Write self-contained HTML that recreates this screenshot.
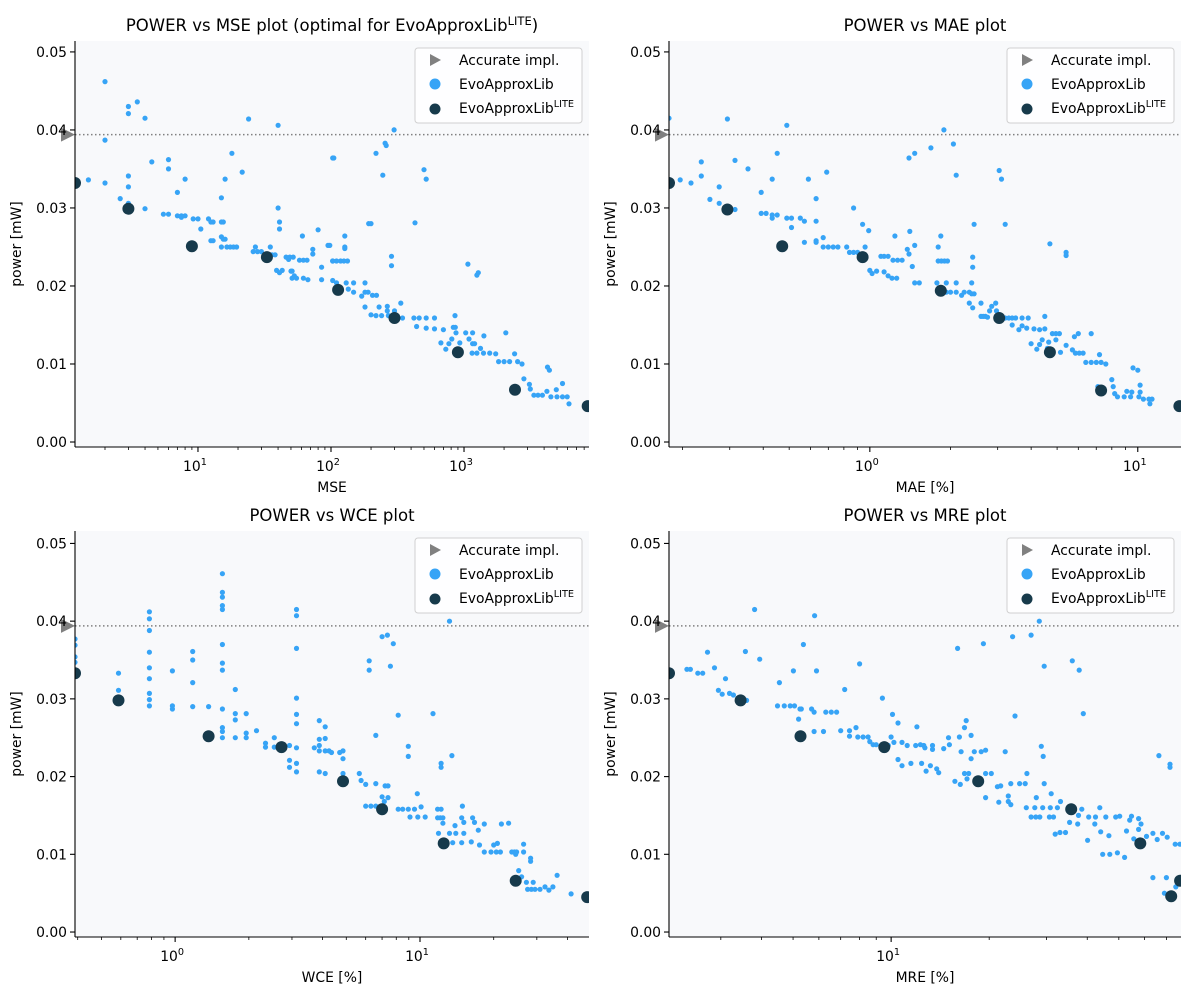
<!DOCTYPE html>
<html><head><meta charset="utf-8">
<style>
html,body{margin:0;padding:0;background:#fff;}
svg{display:block;font-family:"DejaVu Sans","Liberation Sans",sans-serif;}
</style></head>
<body>
<svg id="fig" width="1200" height="1000" viewBox="0 0 1200 1000" xmlns="http://www.w3.org/2000/svg"></svg>
<script>
// ---------- data ----------
const accuratePower = 0.0394;
// Plot 1: MSE
const mseX = [2.0,3.0,3.0,3.5,4.0,2.0,24,40,103,4.5,6,6,1.5,2.0,3,3,2.6,3,4,
8,7,5.5,6,7,7.5,7.5,8,9.2,10,10.5,12,12.5,13,15,16,18,21.5,
15,15.5,15,15.5,16,15,12.5,13,16.5,17.5,18.5,19.5,26,27,28,30,35,36,38,
40,41,41,39,41,43,46,49,52,48,50,51,53,51,55,61,58,62,66,62,67,73,73,80,85,85,95,103,103,
105,218,255,260,298,245,500,520,428,192,200,127,127,127,98,1070,1250,1280,285,285,
103,110,118,125,133,110,130,135,148,148,180,170,180,190,205,220,180,200,
218,240,270,230,265,265,300,335,345,420,460,520,600,440,520,600,700,855,
670,730,770,810,830,860,870,930,1030,1160,1090,1160,1200,1150,1250,1400,1560,1330,1410,1730,2060,
1820,2000,2200,2530,2400,2730,2820,3100,3150,3350,3600,3880,4240,4380,4200,4940,4500,5000,5500,5970,5500,6150];
const msePower = [.0462,.0430,.0421,.0436,.0415,.0387,.0414,.0406,.0364,.0359,.0362,.0350,.0336,.0332,.0341,.0327,.0312,.0306,.0299,
.0337,.0320,.0292,.0292,.0290,.0290,.0288,.0290,.0286,.0286,.0273,.0286,.0282,.0282,.0313,.0337,.0370,.0346,
.0282,.0282,.0263,.0260,.0260,.0250,.0258,.0258,.0250,.0250,.0250,.0250,.0244,.0250,.0244,.0244,.0250,.0240,.0240,
.0300,.0282,.0273,.0220,.0217,.0220,.0237,.0237,.0237,.0234,.0219,.0219,.0213,.0210,.0210,.0264,.0233,.0233,.0233,.0210,.0208,.0247,.0241,.0272,.0224,.0208,.0252,.0232,.0207,
.0364,.0370,.0383,.0380,.0400,.0342,.0349,.0337,.0281,.0280,.0280,.0264,.0250,.0248,.0252,.0228,.0214,.0217,.0238,.0226,
.0232,.0232,.0232,.0232,.0232,.0204,.0204,.0196,.0204,.0192,.0204,.0187,.0192,.0192,.0188,.0188,.0173,.0163,
.0162,.0162,.0162,.0173,.0174,.0168,.0168,.0178,.0159,.0159,.0159,.0159,.0159,.0148,.0146,.0145,.0144,.0162,
.0127,.0119,.0126,.0132,.0147,.0147,.0140,.0127,.0140,.0140,.0132,.0126,.0126,.0114,.0114,.0114,.0114,.0120,.0136,.0113,.0140,
.0103,.0103,.0103,.0103,.0113,.0100,.0081,.0074,.0068,.0060,.0060,.0060,.0096,.0092,.0065,.0067,.0058,.0058,.0058,.0058,.0075,.0049];
const mseLiteX = [1.19,3,9,33,113,300,900,2415,8500];
const mseLiteP = [.0332,.0299,.0251,.0237,.0195,.0159,.0115,.0067,.0046];

// Plot 2: MAE
const maeX = [.178,.294,.49,.235,.235,.314,.351,.451,.432,.196,.215,.274,.253,.274,.314,
.393,.393,.41,.432,.451,.432,.49,.51,.55,.57,.51,.59,.69,.63,.63,.57,.63,.63,.67,
.67,.70,.73,.76,.87,.82,.84,.87,.90,.94,.99,.96,1.0,1.02,1.06,1.10,1.13,1.17,1.13,1.17,1.21,1.26,1.24,
1.41,1.47,1.38,1.40,1.22,1.27,1.32,1.44,1.47,1.53,1.40,1.47,1.69,1.89,2.05,2.10,1.80,1.84,1.80,1.85,1.90,1.95,
1.78,1.93,2.10,1.93,2.0,2.1,2.2,2.25,2.35,2.4,2.4,2.45,2.45,2.42,2.42,
2.35,2.42,2.6,2.6,2.65,2.7,2.75,2.8,2.85,2.95,2.97,3.04,3.1,3.2,
3.2,3.3,3.4,3.5,3.7,3.9,3.4,3.6,3.7,3.85,4.1,4.3,4.5,4.5,
4.0,4.2,4.3,4.4,4.65,4.6,4.8,4.95,5.1,4.95,5.15,5.4,5.7,5.85,6.05,6.25,4.7,5.4,5.4,5.8,6.0,6.7,
6.4,6.7,7.0,7.3,7.2,7.6,7.1,8.0,8.1,8.2,8.4,8.9,9.4,10.1,9.1,9.5,10.2,10.2,9.6,10.0,10.5,11.0,11.3,11.1];
const maePower = [.0415,.0414,.0406,.0359,.0341,.0361,.0350,.0370,.0337,.0336,.0332,.0327,.0311,.0306,.0298,
.0320,.0293,.0293,.0291,.0291,.0287,.0287,.0287,.0287,.0283,.0275,.0337,.0346,.0312,.0283,.0256,.0258,.0256,.0262,
.0250,.0250,.0250,.0250,.0300,.0250,.0243,.0243,.0243,.0279,.0271,.0250,.0220,.0216,.0219,.0238,.0238,.0238,.0218,.0213,.0210,.0210,.0264,
.0270,.0252,.0247,.0241,.0233,.0233,.0233,.0225,.0204,.0204,.0364,.0370,.0377,.0400,.0382,.0342,.0250,.0264,.0232,.0232,.0232,.0232,
.0204,.0204,.0204,.0192,.0192,.0192,.0188,.0192,.0192,.0204,.0190,.0190,.0279,.0237,.0224,
.0178,.0172,.0178,.0161,.0161,.0161,.0160,.0168,.0174,.0178,.0168,.0348,.0337,.0279,
.0159,.0159,.0159,.0159,.0159,.0159,.0150,.0144,.0149,.0146,.0145,.0144,.0145,.0161,
.0126,.0119,.0125,.0131,.0128,.0120,.0139,.0139,.0139,.0131,.0115,.0124,.0118,.0114,.0114,.0114,.0254,.0243,.0239,.0135,.0139,.0139,
.0102,.0102,.0102,.0102,.0112,.0100,.0071,.0080,.0071,.0062,.0058,.0058,.0058,.0058,.0065,.0064,.0073,.0064,.0095,.0092,.0055,.0055,.0055,.0049];
const maeLiteX = [0.178,0.294,0.471,0.94,1.84,3.04,4.7,7.3,14.3];
const maeLiteP = [.0332,.0298,.0251,.0237,.0194,.0159,.0115,.0066,.0046];

// Plot 3: WCE
const wceX = [1.56,1.56,1.56,1.56,1.56,1.56,1.56,1.56,1.56,1.56,1.56,1.56,
.785,.785,.785,.785,.785,.785,.785,.785,.785,.39,.39,.39,.39,.587,.587,
.975,.975,.975,1.18,1.18,1.18,1.18,1.37,1.76,1.76,1.76,1.76,1.95,1.95,1.95,2.15,
2.34,2.34,2.54,2.54,2.93,2.93,2.93,3.13,3.13,3.13,3.13,3.13,3.13,3.13,3.13,3.13,
3.88,4.1,3.88,4.1,3.88,3.88,3.7,4.1,4.25,4.35,4.7,4.85,4.85,3.88,4.1,4.85,5.65,
5.75,6.0,6.6,7.2,7.4,7.4,7.0,7.15,6.0,6.3,6.6,8.15,8.5,8.96,9.5,9.1,9.8,10.1,10.5,
6.2,6.2,7.0,7.36,7.78,7.57,8.15,6.6,8.96,8.96,9.75,11.3,12.2,12.2,13.5,13.2,
11.8,12.2,11.8,12.1,12.4,12.4,11.9,13.9,14.8,14.9,15.1,16.4,16.7,17.3,18.3,
13.2,14.0,15.1,13.6,14.8,16.2,17.5,18.3,19.5,20.5,21.3,20.0,20.7,21.5,23.0,
23.7,24.3,24.8,24.6,26.5,26.5,28.3,28.3,25.3,26.0,27.2,27.5,28.5,29.5,30.9,29.0,32.4,33.6,34.9,36.3,41.4];
const wcePower = [.0461,.0437,.0431,.0420,.0415,.0370,.0346,.0337,.0287,.0263,.0258,.0250,
.0412,.0403,.0388,.0360,.0340,.0326,.0307,.0299,.0291,.0377,.0369,.0354,.0347,.0333,.0311,
.0336,.0291,.0287,.0361,.0350,.0321,.0290,.0290,.0312,.0281,.0273,.0250,.0281,.0256,.0250,.0259,
.0243,.0238,.0250,.0238,.0240,.0221,.0212,.0237,.0217,.0206,.0415,.0407,.0365,.0301,.0280,.0268,
.0272,.0264,.0248,.0249,.0240,.0233,.0237,.0233,.0233,.0231,.0231,.0233,.0223,.0206,.0204,.0204,.0204,
.0195,.0190,.0191,.0188,.0188,.0173,.0174,.0168,.0162,.0162,.0162,.0158,.0158,.0158,.0158,.0148,.0148,.0161,.0148,
.0349,.0337,.0380,.0382,.0371,.0342,.0279,.0253,.0239,.0226,.0178,.0281,.0217,.0212,.0227,.0400,
.0158,.0158,.0147,.0147,.0147,.0140,.0127,.0137,.0147,.0162,.0141,.0147,.0141,.0131,.0139,
.0127,.0127,.0127,.0115,.0115,.0116,.0112,.0103,.0103,.0103,.0103,.0112,.0114,.0139,.0140,
.0103,.0103,.0103,.0100,.0113,.0103,.0095,.0091,.0079,.0071,.0064,.0055,.0055,.0055,.0055,.0064,.0058,.0054,.0058,.0073,.0049];
const wceLiteX = [0.39,0.587,1.37,2.72,4.85,7.0,12.5,24.6,48.2];
const wceLiteP = [.0333,.0298,.0252,.0238,.0194,.0158,.0114,.0066,.0045];

// Plot 4: MRE
const mreX = [3.81,5.82,2.73,3.57,3.95,2.87,3.1,2.36,2.42,2.55,2.64,2.95,3.03,3.19,3.28,3.6,
4.54,5.01,5.38,5.9,4.48,4.7,4.9,5.05,5.25,5.3,5.7,5.8,6.3,6.55,6.8,5.2,5.8,6.2,
7.2,8.0,7.0,7.45,7.45,7.8,7.9,8.2,8.5,8.6,8.8,9.0,9.4,10,10.1,10.5,9.8,10.2,10.8,
10.5,10.8,11.5,12.0,12.3,12.4,12.8,13.2,13.8,14.0,11.2,11.9,12.6,13.4,12.7,13.4,14.5,15.0,15.1,
16.0,19.2,23.6,26.9,28.5,29.5,36.0,37.8,38.9,16.2,16.8,17.0,17.6,16.4,17.6,18.0,18.9,19.5,22.4,24.0,
15.7,16.3,16.8,17.3,17.1,19.5,20.3,19.5,21.2,21.7,21.4,22.9,22.9,23.3,23.3,24.8,25.8,26.1,26.0,
26.9,27.8,28.6,27.9,28.9,29.3,29.5,31.0,33.1,27.6,29.2,30.8,32.4,
30.6,31.5,31.9,33.0,34.3,35.3,37.4,37.6,38.5,40.1,40.4,42.4,43.7,42.2,44.0,44.6,46.9,45.6,48.9,46.6,49.5,52.1,
50.3,54.7,52.8,54.0,55.6,57.5,57.5,58.5,60.8,63.6,65.6,68.1,70.4,66.4,71.8,71.8,63.6,70.0,69.0,74.8,74.5,77.0];
const mrePower = [.0415,.0407,.0360,.0361,.0351,.0340,.0326,.0338,.0338,.0333,.0333,.0311,.0306,.0307,.0305,.0298,
.0321,.0336,.0370,.0336,.0291,.0291,.0291,.0291,.0287,.0287,.0287,.0283,.0283,.0283,.0283,.0274,.0258,.0258,
.0312,.0345,.0259,.0259,.0252,.0263,.0251,.0251,.0251,.0245,.0241,.0241,.0301,.0251,.0280,.0269,.0240,.0244,.0244,
.0222,.0214,.0217,.0264,.0241,.0217,.0207,.0214,.0210,.0205,.0240,.0240,.0240,.0240,.0237,.0235,.0236,.0250,.0241,
.0365,.0371,.0380,.0382,.0400,.0342,.0349,.0337,.0281,.0251,.0263,.0272,.0253,.0232,.0223,.0232,.0232,.0234,.0232,.0278,
.0194,.0190,.0204,.0204,.0197,.0204,.0204,.0173,.0187,.0188,.0167,.0175,.0168,.0164,.0191,.0191,.0191,.0204,.0160,
.0148,.0148,.0148,.0173,.0239,.0226,.0191,.0178,.0168,.0160,.0160,.0160,.0160,
.0148,.0148,.0126,.0128,.0128,.0141,.0139,.0150,.0158,.0118,.0148,.0148,.0160,.0139,.0129,.0100,.0100,.0148,.0148,.0124,.0102,.0096,
.0149,.0149,.0130,.0144,.0120,.0146,.0132,.0139,.0123,.0127,.0119,.0127,.0122,.0227,.0216,.0212,.0070,.0070,.0050,.0058,.0113,.0113];
const mreLiteX = [2.08,3.45,5.27,9.53,18.5,35.7,58.2,77.1,72.4];
const mreLiteP = [.0333,.0298,.0252,.0238,.0194,.0158,.0114,.0066,.0046];

const yTicks = [0,0.01,0.02,0.03,0.04,0.05];
const yTickLabels = ["0.00","0.01","0.02","0.03","0.04","0.05"];

// ---------- rendering ----------
const NS = "http://www.w3.org/2000/svg";
const fig = document.getElementById('fig');
const LIGHT = "#37a4f6", DARK = "#173a4b";
function mk(tag, attrs, parent){ const e=document.createElementNS(NS,tag); for(const k in attrs) e.setAttribute(k,attrs[k]); (parent||fig).appendChild(e); return e; }

const panels = [
 {key:'mse', L:75, R:589, T:41, B:447, xmin:1.19, xmax:8700, ymin:-0.00064, ymax:0.0514, xs:mseX, ps:msePower, lx:mseLiteX, lp:mseLiteP, majors:[1,2,3], title:'mse', xlabel:'MSE'},
 {key:'mae', L:669, R:1181, T:41, B:447, xmin:0.178, xmax:14.5, ymin:-0.00064, ymax:0.0514, xs:maeX, ps:maePower, lx:maeLiteX, lp:maeLiteP, majors:[0,1], title:'POWER vs MAE plot', xlabel:'MAE [%]'},
 {key:'wce', L:75, R:589, T:531, B:937, xmin:0.39, xmax:49, ymin:-0.00064, ymax:0.0516, xs:wceX, ps:wcePower, lx:wceLiteX, lp:wceLiteP, majors:[0,1], title:'POWER vs WCE plot', xlabel:'WCE [%]'},
 {key:'mre', L:669, R:1181, T:531, B:937, xmin:2.08, xmax:77.6, ymin:-0.00064, ymax:0.0516, xs:mreX, ps:mrePower, lx:mreLiteX, lp:mreLiteP, majors:[1], title:'POWER vs MRE plot', xlabel:'MRE [%]'}
];

panels.forEach((P, idx) => {
  const g = mk('g', {});
  
  
  const sx = v => P.L + (Math.log10(v) - Math.log10(P.xmin)) / (Math.log10(P.xmax) - Math.log10(P.xmin)) * (P.R - P.L);
  const sy = v => P.B - (v - P.ymin) / (P.ymax - P.ymin) * (P.B - P.T);
  const bg = mk('rect', {x:P.L, y:P.T, width:P.R-P.L, height:P.B-P.T, fill:'#f8f9fb'}, g);
  
  
  const cid = 'clip' + idx;
  const cp = mk('clipPath', {id:cid}, g);
  mk('rect', {x:P.L, y:P.T, width:P.R-P.L, height:P.B-P.T}, cp);

  // title
  const t = mk('text', {x:(P.L+P.R)/2, y:P.T-10, 'text-anchor':'middle', 'font-size':'16.5', fill:'#000'}, g);
  
  
  if (P.title === 'mse') {
    t.textContent = 'POWER vs MSE plot (optimal for EvoApproxLib';
    const s = mk('tspan', {dy:'-6', 'font-size':'11.5'}, t); s.textContent = 'LITE';
    const s2 = mk('tspan', {dy:'6'}, t); s2.textContent = ')';
  } else t.textContent = P.title;

  // dotted accurate line
  const dl = mk('line', {x1:P.L, x2:P.R, y1:sy(accuratePower), y2:sy(accuratePower), stroke:'#808080', 'stroke-width':'1.5', 'stroke-dasharray':'1.5,2.5'}, g);
  
  

  // points
  const pg = mk('g', {'clip-path':'url(#'+cid+')'}, g);
  for (let i=0;i<P.xs.length;i++){
    const c = mk('circle', {cx:sx(P.xs[i]).toFixed(1), cy:sy(P.ps[i]).toFixed(1), r:'2.6', fill:LIGHT}, pg);
    
    
  }
  for (let i=0;i<P.lx.length;i++){
    const c = mk('circle', {cx:sx(P.lx[i]).toFixed(1), cy:sy(P.lp[i]).toFixed(1), r:'6', fill:DARK}, pg);
    
    
  }
  // accurate triangle
  const ty = sy(accuratePower), tx = P.L - 8;
  const tri = mk('polygon', {points:`${tx-6},${ty-7} ${tx+8},${ty} ${tx-6},${ty+7}`, fill:'#808080'}, g);
  
  

  // spines
  const sp1 = mk('line', {x1:P.L, x2:P.L, y1:P.T, y2:P.B, stroke:'#000', 'stroke-width':'1.1'}, g);
  
  
  const sp2 = mk('line', {x1:P.L, x2:P.R, y1:P.B, y2:P.B, stroke:'#000', 'stroke-width':'1.1'}, g);
  
  

  // y ticks
  yTicks.forEach((v, i) => {
    const y = sy(v);
    mk('line', {x1:P.L-5, x2:P.L, y1:y, y2:y, stroke:'#000', 'stroke-width':'1.1'}, g);
    const tl = mk('text', {x:P.L-8, y:y+5, 'text-anchor':'end', 'font-size':'13.9', fill:'#000'}, g);
    
    
    tl.textContent = yTickLabels[i];
  });
  // x ticks (log)
  const e0 = Math.floor(Math.log10(P.xmin)), e1 = Math.ceil(Math.log10(P.xmax));
  for (let e=e0; e<=e1; e++){
    for (let m=1; m<10; m++){
      const v = m*Math.pow(10,e);
      if (v < P.xmin*0.999 || v > P.xmax*1.001) continue;
      const x = sx(v);
      mk('line', {x1:x, x2:x, y1:P.B, y2:P.B+(m===1?5:3), stroke:'#000', 'stroke-width':m===1?'1.1':'0.8'}, g);
      if (m===1){
        const xl = mk('text', {x:x-3, y:P.B+24, 'text-anchor':'middle', 'font-size':'13.9', fill:'#000'}, g);
        
        
        xl.textContent = '10';
        const s = mk('tspan', {dy:'-6', 'font-size':'9.7'}, xl); s.textContent = String(e);
      }
    }
  }
  // axis labels
  const xlab = mk('text', {x:(P.L+P.R)/2, y:P.B+45, 'text-anchor':'middle', 'font-size':'13.9', fill:'#000'}, g);
  
  
  xlab.textContent = P.xlabel;
  const yx = P.L - 54, yy = (P.T+P.B)/2;
  const ylab = mk('text', {x:yx, y:yy, 'text-anchor':'middle', 'font-size':'13.9', fill:'#000', transform:`rotate(-90 ${yx} ${yy})`}, g);
  
  
  ylab.textContent = 'power [mW]';

  // legend
  const lx = P.R - 174, ly = P.T + 7;
  const lg = mk('g', {}, g);
  
  
  mk('rect', {x:lx, y:ly, width:167, height:75, rx:3, fill:'#fff', 'fill-opacity':'0.85', stroke:'#d0d0d0', 'stroke-width':'1'}, lg);
  const rows = [['tri','Accurate impl.'],['light','EvoApproxLib'],['dark','EvoApproxLib']];
  rows.forEach((r, i) => {
    const cy = ly + 12 + i*24;
    const mx = lx + 20;
    if (r[0]==='tri') mk('polygon', {points:`${mx-5},${cy-6} ${mx+6},${cy} ${mx-5},${cy+6}`, fill:'#808080'}, lg);
    else mk('circle', {cx:mx, cy:cy+ (i===2?1:0), r:5.5, fill:r[0]==='light'?LIGHT:DARK}, lg);
    const tt = mk('text', {x:lx+44, y:cy+5, 'font-size':'13.9', fill:'#000'}, lg);
    
    
    tt.textContent = r[1];
    if (i===2){ const s = mk('tspan', {dy:'-6', 'font-size':'9.7'}, tt); s.textContent='LITE'; }
  });
});
</script>
</body></html>
